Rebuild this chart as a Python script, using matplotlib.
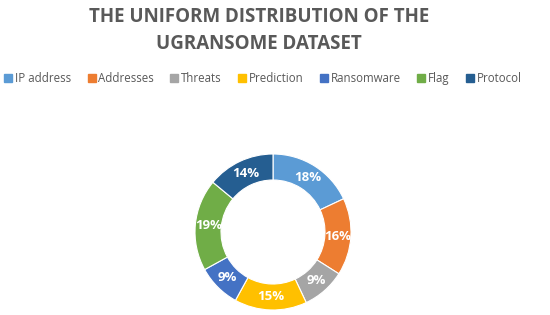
import matplotlib
matplotlib.use("Agg")
import matplotlib.pyplot as plt
from matplotlib.lines import Line2D
import numpy as np

categories = ["IP address", "Addresses", "Threats", "Prediction", "Ransomware", "Flag", "Protocol"]
values = [18, 16, 9, 15, 9, 19, 14]
colors = ["#5B9BD5", "#ED7D31", "#A5A5A5", "#FFC000", "#4472C4", "#70AD47", "#255E91"]

plt.rcParams['font.family'] = ['Open Sans', 'DejaVu Sans']

fig = plt.figure(figsize=(5.5, 3.15), dpi=100)
fig.patch.set_facecolor("white")

fig.text(259 / 550, 0.945, "THE UNIFORM DISTRIBUTION OF THE", ha="center", va="center",
         fontsize=13.5, fontweight="bold", color="#595959")
fig.text(259 / 550, 0.86, "UGRANSOME DATASET", ha="center", va="center",
         fontsize=13.5, fontweight="bold", color="#595959")

handles = [Line2D([0], [0], marker="s", linestyle="none", markersize=6,
                  markerfacecolor=c, markeredgecolor=c) for c in colors]
leg = fig.legend(handles, categories, loc="center", bbox_to_anchor=(263 / 550, 0.75), ncol=7,
                 frameon=False, fontsize=8.3, handlelength=0.7, handletextpad=0.25,
                 columnspacing=1.4, labelcolor="#595959")

ax = fig.add_axes([(273 - 80) / 550, (315 - 232 - 80) / 315, 160 / 550, 160 / 315])
wedges, texts = ax.pie(values, colors=colors, startangle=90, counterclock=False,
                       radius=0.975, wedgeprops=dict(width=0.325, edgecolor="white", linewidth=0.8))
total = sum(values)
ang = 90.0
for v in values:
    mid = ang - v / total * 360 / 2
    ang -= v / total * 360
    r = 0.975 - 0.325 / 2
    ax.text(r * np.cos(np.radians(mid)), r * np.sin(np.radians(mid)), f"{v}%",
            ha="center", va="center", color="white", fontsize=9.5, fontweight="bold")
ax.set_xlim(-1, 1)
ax.set_ylim(-1, 1)
ax.set_aspect("equal")
ax.axis("off")

fig.savefig("out.png", dpi=100, facecolor="white")
